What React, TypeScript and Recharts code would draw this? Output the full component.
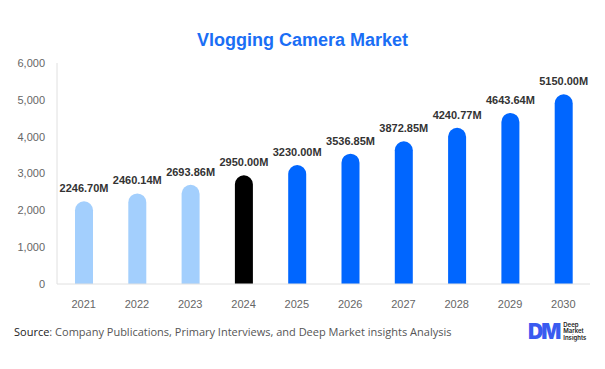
import { BarChart, Bar, XAxis, YAxis, Cell, LabelList } from "recharts"

const years = ["2021", "2022", "2023", "2024", "2025", "2026", "2027", "2028", "2029", "2030"]
const marketSize = [2246.7, 2460.14, 2693.86, 2950.0, 3230.0, 3536.85, 3872.85, 4240.77, 4643.64, 5150.0]
const yTicks = [0, 1000, 2000, 3000, 4000, 5000, 6000]

const HISTORIC = "#a3cffd"
const CURRENT = "#000000"
const FORECAST = "#0066ff"

const barColor = (year: string) => {
  const y = Number(year)
  if (y < 2024) return HISTORIC
  if (y === 2024) return CURRENT
  return FORECAST
}

export default function App() {
  const chartData = years.map((year, i) => ({ year, value: marketSize[i] }))

  return (
    <div
      style={{
        position: "absolute",
        top: 0,
        left: 0,
        width: 605,
        height: 369,
        background: "#fff",
        fontFamily: "Roboto, Arial, sans-serif",
      }}
    >
      <div
        style={{
          position: "absolute",
          top: 30,
          left: 0,
          width: 605,
          textAlign: "center",
          fontSize: 18,
          fontWeight: 700,
          color: "#1a6ef5",
          fontFamily: "'Liberation Sans', Arial, sans-serif",
        }}
      >
        Vlogging Camera Market
      </div>

      <BarChart
        width={605}
        height={369}
        data={chartData}
        margin={{ top: 63, right: 15, bottom: 55, left: 0 }}
      >
        <XAxis
          dataKey="year"
          axisLine={{ stroke: "#e0e0e0" }}
          tickLine={false}
          tick={{ fill: "#666", fontSize: 11, fontFamily: "'Liberation Sans', Arial, sans-serif" }}
          tickMargin={10}
          height={30}
        />
        <YAxis
          domain={[0, 6000]}
          ticks={yTicks}
          axisLine={{ stroke: "#e0e0e0" }}
          tickLine={false}
          tick={{ fill: "#666", fontSize: 11, fontFamily: "'Liberation Sans', Arial, sans-serif" }}
          tickFormatter={(v: number) => v.toLocaleString("en-US")}
          tickMargin={6}
          width={57}
        />
        <Bar dataKey="value" barSize={18} radius={[9, 9, 0, 0]} isAnimationActive={false}>
          {chartData.map((entry, index) => (
            <Cell key={`cell-${index}`} fill={barColor(entry.year)} />
          ))}
          <LabelList
            dataKey="value"
            position="top"
            offset={9}
            formatter={(v: number) => `${v.toFixed(2)}M`}
            style={{
              fill: "#333",
              fontSize: 11,
              fontWeight: 700,
              fontFamily: "'Liberation Sans', Arial, sans-serif",
            }}
          />
        </Bar>
      </BarChart>

      <div
        style={{
          position: "absolute",
          top: 324,
          left: 14,
          fontSize: 11,
          color: "#555",
          fontFamily: "'Open Sans', Arial, sans-serif",
        }}
      >
        <span style={{ color: "#222" }}>Source</span>: Company Publications, Primary Interviews, and Deep Market insights Analysis
      </div>

      <div
        style={{
          position: "absolute",
          top: 321,
          left: 528,
          display: "flex",
          alignItems: "center",
        }}
      >
        <span
          style={{
            fontSize: 21,
            fontWeight: 900,
            color: "#3a5bf0",
            letterSpacing: -2,
            fontFamily: "Inter, Arial, sans-serif",
            lineHeight: "21px",
          }}
        >
          DM
        </span>
        <span
          style={{
            marginLeft: 4,
            fontSize: 6,
            lineHeight: "6.5px",
            color: "#222",
            fontWeight: 600,
            fontFamily: "Inter, Arial, sans-serif",
          }}
        >
          Deep
          <br />
          Market
          <br />
          Insights
        </span>
      </div>
    </div>
  )
}
